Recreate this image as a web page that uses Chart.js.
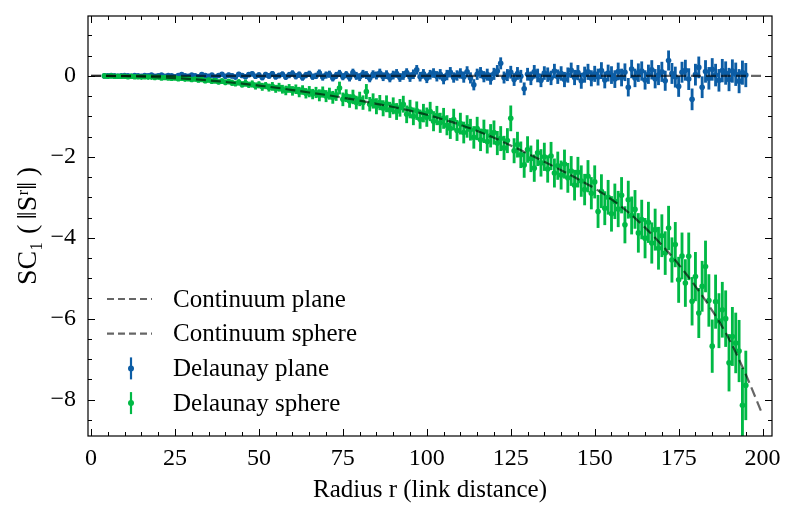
<!DOCTYPE html>
<html>
<head>
<meta charset="utf-8">
<script src="https://cdn.jsdelivr.net/npm/chart.js@4.4.1/dist/chart.umd.min.js"></script>
<style>
  html, body { margin: 0; padding: 0; background: #fff; }
  #wrap { width: 796px; height: 518px; }
</style>
</head>
<body>
<div id="wrap"><canvas id="chart" width="796" height="518"></canvas></div>
<script>
// radius r = 4 ... 195 (link distance), one sample per integer
var radius = [];
for (var r = 4; r <= 195; r++) radius.push(r);

var planeY = [
  0.00, 0.00, 0.01, 0.00, -0.01, 0.00,
  0.01, 0.00, -0.01, 0.01, 0.00, -0.01, 0.01, 0.00, 0.02, -0.01,
  0.00, 0.02, -0.01, 0.01, 0.00, -0.02, 0.01, 0.03, 0.00, -0.01,
  0.02, 0.00, -0.02, 0.03, 0.01, -0.01, 0.02, -0.03, 0.01, 0.04,
  -0.01, 0.02, 0.00, -0.03, 0.04, 0.01, -0.02, 0.03, 0.05, -0.01,
  0.02, -0.04, 0.03, 0.00, 0.05, -0.02, 0.01, 0.04, -0.03, 0.02,
  0.06, -0.01, 0.03, -0.04, 0.02, 0.05, -0.02, 0.00, 0.07, -0.03,
  0.02, 0.04, -0.05, 0.01, 0.06, -0.02, 0.03, -0.04, 0.08, 0.00,
  -0.03, 0.05, 0.02, -0.06, 0.04, 0.01, 0.07, -0.02, 0.03, -0.05,
  0.02, 0.06, -0.04, 0.01, 0.08, -0.03, 0.04, 0.15, -0.02, 0.05,
  -0.06, 0.03, 0.07, -0.01, 0.04, -0.08, 0.02, 0.09, -0.04, 0.01,
  0.06, -0.03, 0.10, -0.05, -0.22, 0.04, 0.08, -0.02, 0.03, -0.07,
  0.05, 0.12, 0.31, -0.04, 0.02, 0.09, -0.09, 0.06, -0.01, -0.32,
  0.04, -0.06, 0.10, 0.01, -0.11, 0.07, 0.03, -0.05, 0.12, -0.02,
  0.06, -0.09, 0.02, 0.14, -0.04, 0.08, -0.12, 0.03, 0.10, -0.06,
  0.05, -0.03, 0.13, -0.10, 0.07, 0.02, -0.08, 0.11, -0.04, 0.09,
  -0.28, 0.17, -0.05, 0.08, 0.12, -0.10, 0.04, 0.15, -0.07, 0.02,
  0.10, -0.12, 0.38, 0.06, -0.03, -0.26, 0.09, 0.14, -0.08, -0.58,
  0.03, 0.21, -0.28, 0.11, -0.06, 0.16, 0.02, -0.11, 0.13, 0.07,
  -0.09, 0.12, 0.04, -0.13, 0.08, 0.02
];
var planeErr = [
  0.01, 0.01, 0.01, 0.01, 0.01, 0.01,
  0.01, 0.01, 0.01, 0.01, 0.02, 0.02, 0.02, 0.02, 0.02, 0.02,
  0.02, 0.02, 0.02, 0.03, 0.03, 0.03, 0.03, 0.03, 0.03, 0.03,
  0.03, 0.03, 0.04, 0.04, 0.04, 0.04, 0.04, 0.04, 0.04, 0.04,
  0.04, 0.05, 0.05, 0.05, 0.05, 0.05, 0.05, 0.05, 0.05, 0.05,
  0.06, 0.06, 0.06, 0.06, 0.06, 0.06, 0.06, 0.06, 0.06, 0.07,
  0.07, 0.07, 0.07, 0.07, 0.07, 0.07, 0.07, 0.07, 0.08, 0.08,
  0.08, 0.08, 0.08, 0.08, 0.08, 0.08, 0.08, 0.09, 0.09, 0.09,
  0.09, 0.09, 0.09, 0.09, 0.09, 0.09, 0.10, 0.10, 0.10, 0.10,
  0.10, 0.10, 0.10, 0.10, 0.10, 0.11, 0.11, 0.11, 0.11, 0.11,
  0.11, 0.11, 0.11, 0.12, 0.12, 0.12, 0.12, 0.12, 0.12, 0.12,
  0.12, 0.13, 0.13, 0.13, 0.13, 0.13, 0.13, 0.13, 0.14, 0.14,
  0.14, 0.14, 0.14, 0.14, 0.14, 0.15, 0.15, 0.15, 0.15, 0.15,
  0.15, 0.16, 0.16, 0.16, 0.16, 0.16, 0.17, 0.17, 0.17, 0.17,
  0.17, 0.18, 0.18, 0.18, 0.18, 0.18, 0.19, 0.19, 0.19, 0.19,
  0.19, 0.20, 0.20, 0.20, 0.20, 0.21, 0.21, 0.21, 0.21, 0.21,
  0.22, 0.22, 0.22, 0.22, 0.23, 0.23, 0.23, 0.23, 0.23, 0.24,
  0.24, 0.24, 0.24, 0.25, 0.25, 0.25, 0.25, 0.25, 0.26, 0.26,
  0.26, 0.26, 0.26, 0.27, 0.27, 0.27, 0.27, 0.27, 0.28, 0.28,
  0.28, 0.28, 0.28, 0.29, 0.29, 0.29
];
var sphereY = [
  0.00, -0.01, 0.00, -0.01, -0.01, -0.01,
  -0.01, -0.02, -0.01, -0.02, -0.02, -0.03, -0.02, -0.03, -0.03, -0.04,
  -0.03, -0.05, -0.04, -0.05, -0.06, -0.05, -0.07, -0.06, -0.08, -0.07,
  -0.09, -0.08, -0.10, -0.09, -0.12, -0.10, -0.13, -0.12, -0.15, -0.13,
  -0.16, -0.14, -0.17, -0.19, -0.16, -0.21, -0.18, -0.22, -0.20, -0.25,
  -0.22, -0.27, -0.24, -0.29, -0.26, -0.32, -0.28, -0.33, -0.36, -0.31,
  -0.37, -0.33, -0.40, -0.35, -0.43, -0.39, -0.45, -0.41, -0.48, -0.40,
  -0.50, -0.44, -0.53, -0.47, -0.30, -0.58, -0.49, -0.62, -0.52, -0.66,
  -0.57, -0.66, -0.39, -0.70, -0.62, -0.75, -0.66, -0.80, -0.69, -0.84,
  -0.74, -0.88, -0.79, -0.70, -0.95, -0.82, -1.00, -0.86, -1.07, -0.92,
  -1.02, -0.88, -1.12, -0.98, -1.16, -1.05, -1.22, -1.30, -1.08, -1.35,
  -1.18, -1.40, -1.25, -1.33, -1.52, -1.30, -1.58, -1.37, -1.62, -1.48,
  -1.40, -1.66, -1.55, -1.78, -1.60, -1.05, -1.85, -1.70, -1.95, -2.20,
  -1.82, -2.05, -2.28, -1.90, -2.15, -2.00, -2.30, -1.98, -2.40, -2.22,
  -2.45, -2.18, -2.52, -2.35, -2.70, -2.38, -2.60, -2.81, -2.48, -2.90,
  -2.62, -3.35, -2.85, -3.27, -3.00, -3.41, -3.10, -3.29, -2.95, -3.68,
  -3.06, -3.45, -3.30, -3.88, -3.55, -4.01, -3.62, -4.13, -3.80, -4.26,
  -3.95, -4.38, -3.76, -4.55, -4.17, -5.04, -4.45, -5.12, -4.46, -5.57,
  -4.96, -5.86, -5.20, -4.71, -5.55, -6.68, -5.58, -6.05, -5.78, -6.00,
  -7.09, -6.44, -6.60, -6.80, -8.14, -7.65
];
var sphereErr = [
  0.01, 0.01, 0.01, 0.01, 0.01, 0.01,
  0.01, 0.01, 0.02, 0.01, 0.02, 0.02, 0.02, 0.02, 0.02, 0.03,
  0.02, 0.03, 0.03, 0.03, 0.03, 0.03, 0.04, 0.03, 0.04, 0.04,
  0.04, 0.04, 0.05, 0.04, 0.05, 0.05, 0.05, 0.06, 0.05, 0.06,
  0.06, 0.06, 0.07, 0.06, 0.07, 0.07, 0.08, 0.07, 0.08, 0.08,
  0.08, 0.09, 0.08, 0.09, 0.10, 0.09, 0.10, 0.10, 0.11, 0.10,
  0.11, 0.11, 0.12, 0.11, 0.12, 0.13, 0.12, 0.13, 0.14, 0.13,
  0.14, 0.14, 0.15, 0.14, 0.15, 0.16, 0.15, 0.16, 0.17, 0.16,
  0.17, 0.17, 0.18, 0.17, 0.18, 0.19, 0.18, 0.19, 0.20, 0.19,
  0.20, 0.20, 0.21, 0.20, 0.21, 0.22, 0.21, 0.22, 0.23, 0.22,
  0.23, 0.23, 0.24, 0.23, 0.24, 0.25, 0.24, 0.25, 0.26, 0.25,
  0.26, 0.26, 0.27, 0.26, 0.27, 0.28, 0.27, 0.28, 0.29, 0.28,
  0.29, 0.29, 0.30, 0.29, 0.30, 0.31, 0.30, 0.31, 0.32, 0.31,
  0.32, 0.32, 0.33, 0.32, 0.33, 0.34, 0.33, 0.34, 0.35, 0.34,
  0.35, 0.35, 0.36, 0.36, 0.37, 0.37, 0.38, 0.38, 0.39, 0.39,
  0.40, 0.40, 0.41, 0.41, 0.42, 0.43, 0.43, 0.44, 0.44, 0.45,
  0.46, 0.46, 0.47, 0.48, 0.48, 0.49, 0.50, 0.50, 0.51, 0.52,
  0.52, 0.53, 0.54, 0.55, 0.55, 0.56, 0.57, 0.58, 0.58, 0.59,
  0.60, 0.61, 0.62, 0.63, 0.64, 0.65, 0.66, 0.67, 0.68, 0.69,
  0.70, 0.72, 0.74, 0.76, 0.92, 0.85
];

// continuum curves
var contR = [0, 5, 10, 15, 20, 25, 30, 35, 40, 45, 50, 55, 60, 65, 70, 75, 80, 85, 90, 95,
  100, 105, 110, 115, 120, 125, 130, 135, 140, 145, 150, 155, 160, 165, 170, 175, 180, 185, 190, 195, 200];
var contSphereY = [0, -0.002, -0.008, -0.02, -0.035, -0.055, -0.08, -0.11, -0.15, -0.19,
  -0.24, -0.29, -0.35, -0.41, -0.47, -0.54, -0.61, -0.69, -0.77, -0.86,
  -0.96, -1.08, -1.21, -1.36, -1.53, -1.72, -1.92, -2.12, -2.33, -2.55,
  -2.78, -3.05, -3.37, -3.75, -4.18, -4.66, -5.2, -5.8, -6.5, -7.38, -8.38];
var planeLineR = [0, 200];
var planeLineY = [0, 0];

var xTicks = [0, 25, 50, 75, 100, 125, 150, 175, 200];
var yTicks = [-8, -6, -4, -2, 0];

var BLUE = '#0C5DA5';
var GREEN = '#00B945';
var DASH = 'rgba(0,0,0,0.6)';
var FONT = '"Liberation Serif", "DejaVu Serif", serif';

function toPoints(xs, ys) {
  var out = [];
  for (var i = 0; i < xs.length; i++) out.push({x: xs[i], y: ys[i]});
  return out;
}
function toErrorBars(values, errors) {
  var out = [];
  for (var i = 0; i < radius.length; i++) {
    out.push({x: radius[i], y: [values[i] - errors[i], values[i] + errors[i]]});
  }
  return out;
}
function minusLabel(v) {
  return v < 0 ? '\u2212' + Math.abs(v) : '' + v;
}

// frame + inward ticks on all four sides (major and minor)
var frameTicks = {
  id: 'frameTicks',
  afterDatasetsDraw: function(chart) {
    var ctx = chart.ctx, a = chart.chartArea;
    var sx = chart.scales.x, sy = chart.scales.y;
    ctx.save();
    ctx.strokeStyle = '#000';
    ctx.lineWidth = 1.2;
    ctx.strokeRect(a.left, a.top, a.right - a.left, a.bottom - a.top);
    ctx.lineWidth = 1;
    ctx.beginPath();
    var v, px, len;
    for (v = 0; v <= sx.max; v += 5) {
      px = Math.round(sx.getPixelForValue(v)) + 0.5;
      len = v % 25 === 0 ? 7 : 4;
      ctx.moveTo(px, a.bottom); ctx.lineTo(px, a.bottom - len);
      ctx.moveTo(px, a.top); ctx.lineTo(px, a.top + len);
    }
    for (v = -8.5; v <= sy.max; v += 0.5) {
      px = Math.round(sy.getPixelForValue(v)) + 0.5;
      len = v % 2 === 0 ? 7 : 4;
      ctx.moveTo(a.left, px); ctx.lineTo(a.left + len, px);
      ctx.moveTo(a.right, px); ctx.lineTo(a.right - len, px);
    }
    ctx.stroke();
    ctx.restore();
  }
};

// legend drawn inside the plot, lower left, like the matplotlib one
var legendBox = {
  id: 'legendBox',
  afterDraw: function(chart) {
    var ctx = chart.ctx, a = chart.chartArea;
    var ds = chart.data.datasets;
    var items = [
      {label: ds[1].label, kind: 'line'},
      {label: ds[0].label, kind: 'line'},
      {label: ds[4].label, kind: 'err', color: BLUE},
      {label: ds[2].label, kind: 'err', color: GREEN}
    ];
    var x0 = a.left + 19, x1 = a.left + 64, xc = a.left + 43, tx = a.left + 85;
    ctx.save();
    ctx.font = '25px ' + FONT;
    ctx.textBaseline = 'middle';
    for (var i = 0; i < items.length; i++) {
      var y = a.top + 283 + i * 34.7;
      var it = items[i];
      if (it.kind === 'line') {
        ctx.strokeStyle = DASH;
        ctx.lineWidth = 2.2;
        ctx.setLineDash([7, 4]);
        ctx.beginPath(); ctx.moveTo(x0, y); ctx.lineTo(x1, y); ctx.stroke();
        ctx.setLineDash([]);
      } else {
        ctx.strokeStyle = it.color;
        ctx.fillStyle = it.color;
        ctx.lineWidth = 2.2;
        ctx.beginPath(); ctx.moveTo(xc, y - 11); ctx.lineTo(xc, y + 11); ctx.stroke();
        ctx.beginPath(); ctx.arc(xc, y, 3, 0, Math.PI * 2); ctx.fill();
      }
      ctx.fillStyle = '#000';
      ctx.fillText(it.label, tx, y + 1);
    }
    ctx.restore();
  }
};

var chart = new Chart(document.getElementById('chart').getContext('2d'), {
  type: 'scatter',
  data: {
    datasets: [
      {type: 'line', label: 'Continuum sphere', data: toPoints(contR, contSphereY),
        borderColor: DASH, borderWidth: 2.2, borderDash: [10, 5], pointRadius: 0,
        fill: false, cubicInterpolationMode: 'monotone'},
      {type: 'line', label: 'Continuum plane', data: toPoints(planeLineR, planeLineY),
        borderColor: DASH, borderWidth: 2.2, borderDash: [10, 5], pointRadius: 0, fill: false},
      {type: 'scatter', label: 'Delaunay sphere', data: toPoints(radius, sphereY),
        backgroundColor: GREEN, borderWidth: 0, pointRadius: 2.8},
      {type: 'bar', label: 'sphere error', data: toErrorBars(sphereY, sphereErr),
        backgroundColor: GREEN, borderWidth: 0, barThickness: 2.2, grouped: false},
      {type: 'scatter', label: 'Delaunay plane', data: toPoints(radius, planeY),
        backgroundColor: BLUE, borderWidth: 0, pointRadius: 2.8},
      {type: 'bar', label: 'plane error', data: toErrorBars(planeY, planeErr),
        backgroundColor: BLUE, borderWidth: 0, barThickness: 2.2, grouped: false}
    ]
  },
  options: {
    responsive: false,
    animation: false,
    devicePixelRatio: 1,
    layout: {padding: {top: 16, right: 24, left: 0, bottom: 0}},
    plugins: {legend: {display: false}, tooltip: {enabled: false}},
    scales: {
      x: {
        type: 'linear', min: -0.9, max: 202.8, offset: false,
        grid: {display: false}, border: {display: false},
        afterBuildTicks: function(s) { s.ticks = xTicks.map(function(v) { return {value: v}; }); },
        afterFit: function(s) { s.height = 82; s.paddingLeft = 0; s.paddingRight = 0; },
        ticks: {color: '#000', padding: 0, maxRotation: 0, autoSkip: false,
          font: {family: FONT, size: 24}},
        title: {display: true, text: 'Radius r (link distance)', color: '#000',
          font: {family: FONT, size: 25}, padding: {top: 0, bottom: 13}}
      },
      y: {
        type: 'linear', min: -8.9, max: 1.48,
        grid: {display: false}, border: {display: false},
        afterBuildTicks: function(s) { s.ticks = yTicks.map(function(v) { return {value: v}; }); },
        afterFit: function(s) { s.width = 88; s.paddingTop = 0; s.paddingBottom = 0; },
        ticks: {color: '#000', padding: 4, autoSkip: false,
          font: {family: FONT, size: 24},
          callback: function(v) { return minusLabel(v); }},
        title: {display: true, text: 'SC\u2081 (\u2009\u2016S\u02b3\u2016\u2009)', color: '#000',
          font: {family: FONT, size: 28}, padding: {top: 12, bottom: 0}}
      }
    }
  },
  plugins: [frameTicks, legendBox]
});
</script>
</body>
</html>
